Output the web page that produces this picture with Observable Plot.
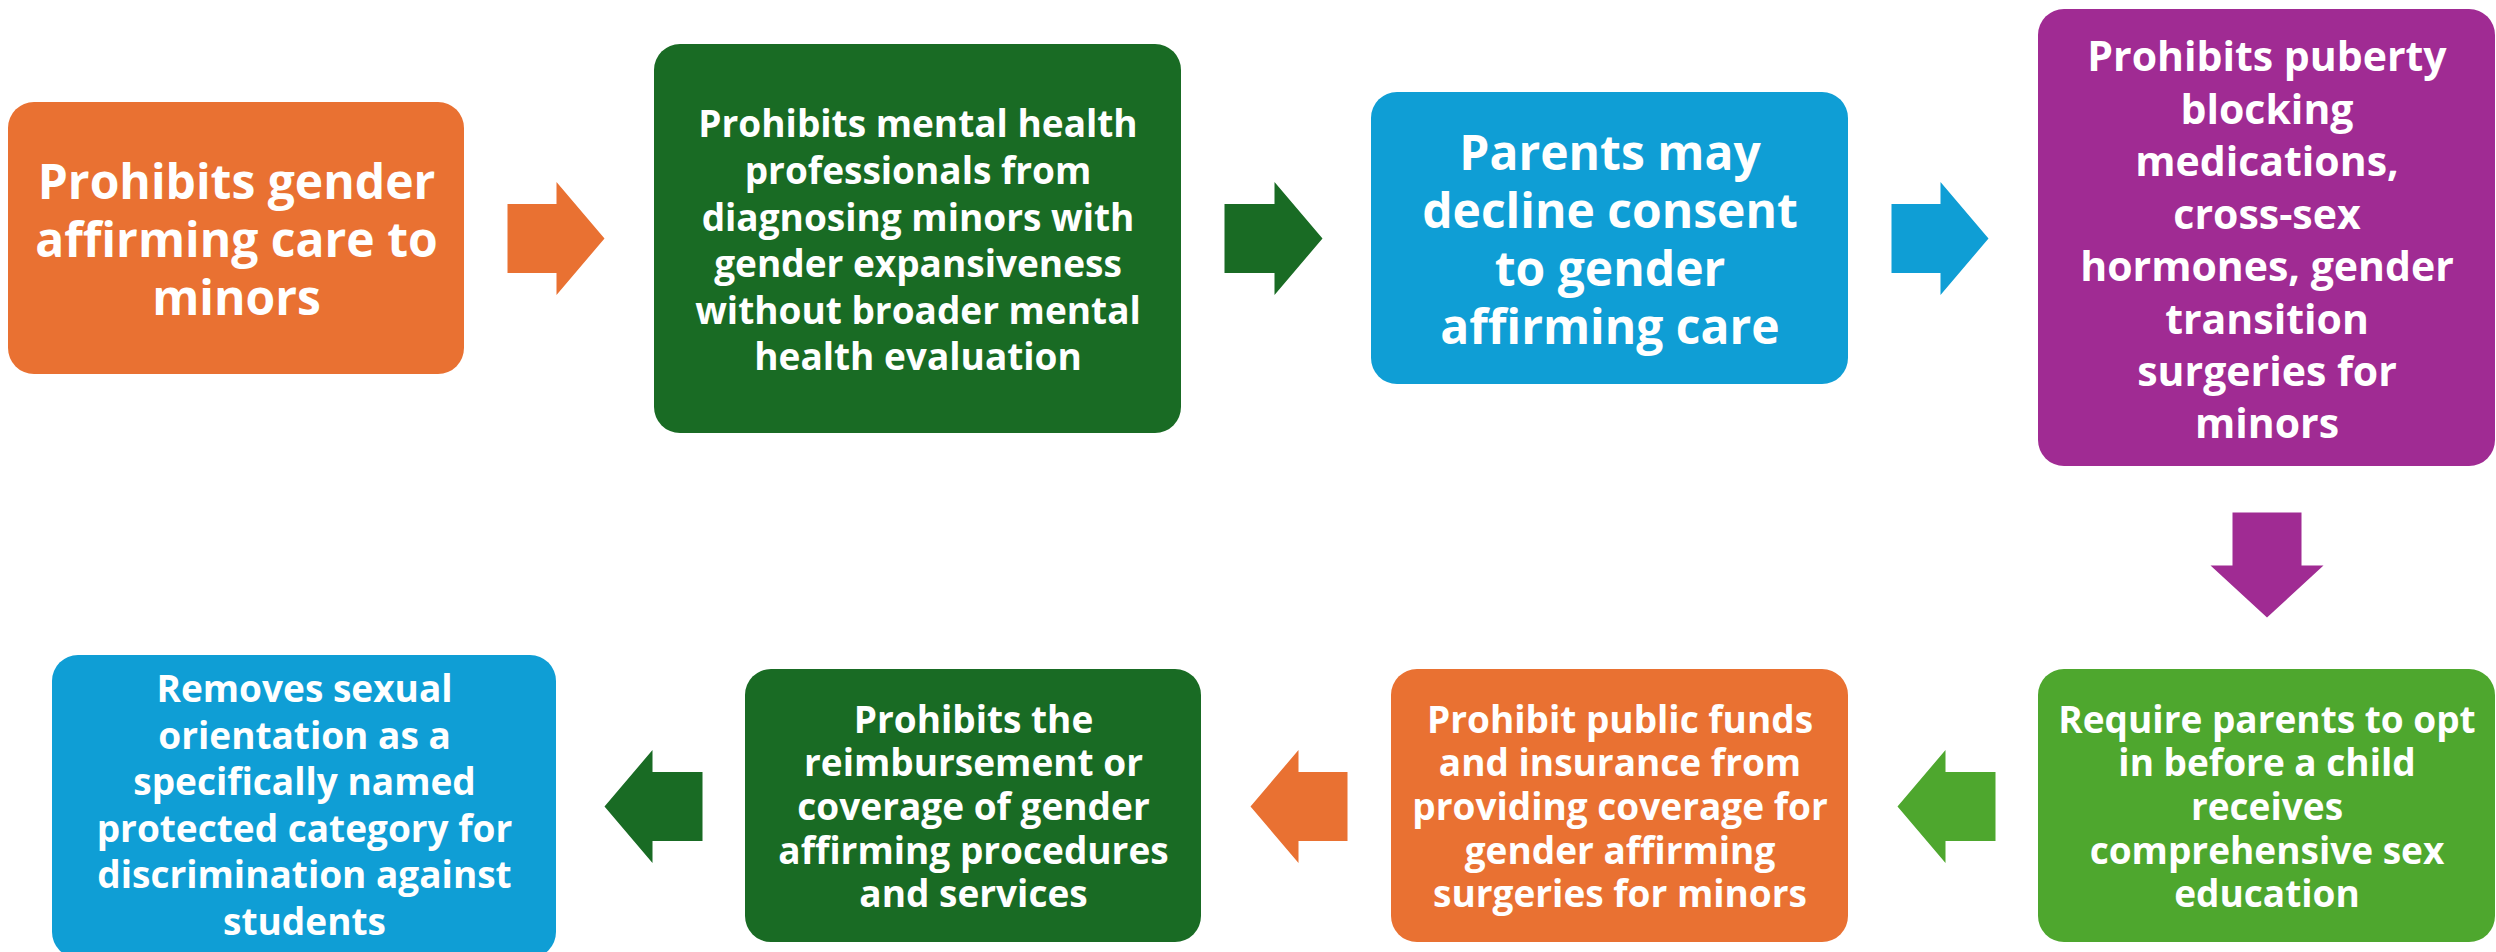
<!DOCTYPE html>
<html>
<head>
<meta charset="utf-8">
<script src="https://cdn.jsdelivr.net/npm/d3@7"></script>
<script src="https://cdn.jsdelivr.net/npm/@observablehq/plot@0.6"></script>
<style>
  html, body { margin: 0; padding: 0; background: #fff; overflow: hidden; }
  #chart svg { display: block; }
</style>
</head>
<body>
<div id="chart"></div>
<script>
// Flow steps (in order of the flow)
const steps = [
  "Prohibits gender\naffirming care to\nminors",
  "Prohibits mental health\nprofessionals from\ndiagnosing minors with\ngender expansiveness\nwithout broader mental\nhealth evaluation",
  "Parents may\ndecline consent\nto gender\naffirming care",
  "Prohibits puberty\nblocking\nmedications,\ncross-sex\nhormones, gender\ntransition\nsurgeries for\nminors",
  "Require parents to opt\nin before a child\nreceives\ncomprehensive sex\neducation",
  "Prohibit public funds\nand insurance from\nproviding coverage for\ngender affirming\nsurgeries for minors",
  "Prohibits the\nreimbursement or\ncoverage of gender\naffirming procedures\nand services",
  "Removes sexual\norientation as a\nspecifically named\nprotected category for\ndiscrimination against\nstudents"
];
const stepColors = ["#E97132", "#196B24", "#0F9ED5", "#A02B93", "#4EA72E", "#E97132", "#196B24", "#0F9ED5"];

// Layout of the boxes
const boxLeft   = [8, 654, 1371, 2038, 2038, 1391, 745, 52];
const boxRight  = [464, 1181, 1848, 2495, 2495, 1848, 1201, 556];
const boxTop    = [102, 44, 92, 9, 669, 669, 669, 655];
const boxBottom = [374, 433, 384, 466, 942, 942, 942, 958];
const fontSizes = [48, 37, 48, 41, 37, 37, 37, 37];
const lineHeights = [1.21, 1.26, 1.21, 1.28, 1.18, 1.18, 1.18, 1.26];

// Arrows: source step, orientation, start / neck / tip along the flow, cross-axis centre
const arrowFrom   = [0, 1, 2, 3, 4, 5, 6];
const arrowVert   = [false, false, false, true, false, false, false];
const arrowStart  = [507, 1224, 1891, 512, 1995, 1347, 702];
const arrowNeck   = [556, 1274, 1940, 565, 1945, 1298, 652];
const arrowTip    = [604, 1322, 1988, 617, 1897, 1250, 604];
const arrowAxis   = [238, 238, 238, 2266.5, 806, 806, 806];
const shaftHalf = 34.5, headHalf = 56.5;

const W = 2496, H = 952;

const boxes = steps.map((t, i) => ({
  text: t, color: stepColors[i],
  x1: boxLeft[i], x2: boxRight[i], y1: boxTop[i], y2: boxBottom[i],
  cx: (boxLeft[i] + boxRight[i]) / 2, cy: (boxTop[i] + Math.min(boxBottom[i], 942)) / 2
}));
// box 8 runs off the bottom edge: centre its text where the reference does
boxes[7].cy = 803;

const arrowPts = [];
arrowFrom.forEach((src, k) => {
  const s = arrowStart[k], n = arrowNeck[k], t = arrowTip[k], c = arrowAxis[k];
  const poly = [[s, c - shaftHalf], [n, c - shaftHalf], [n, c - headHalf], [t, c],
                [n, c + headHalf], [n, c + shaftHalf], [s, c + shaftHalf], [s, c - shaftHalf]];
  poly.forEach(([a, b]) => arrowPts.push({
    id: k, color: stepColors[src],
    x: arrowVert[k] ? b : a, y: arrowVert[k] ? a : b
  }));
});

const font = "'Open Sans', 'DejaVu Sans', sans-serif";

const marks = [
  Plot.rect(boxes, {x1: "x1", x2: "x2", y1: "y1", y2: "y2", fill: "color", rx: 26, ry: 26}),
  ...arrowFrom.map((src, k) => Plot.line(arrowPts.filter(d => d.id === k), {
    x: "x", y: "y", fill: stepColors[src], stroke: "none", curve: "linear"
  })),
  ...boxes.map((b, i) => Plot.text([b], {
    x: "cx", y: "cy", text: "text", fill: "white",
    fontSize: fontSizes[i], lineHeight: lineHeights[i], fontWeight: 700,
    fontFamily: font, textAnchor: "middle", lineAnchor: "middle"
  }))
];

const chart = Plot.plot({
  width: W, height: H,
  margin: 0,
  x: {domain: [0, W], range: [0, W], axis: null},
  y: {domain: [0, H], range: [0, H], axis: null},
  color: {type: "identity"},
  style: {background: "white", fontFamily: font},
  marks
});
document.getElementById("chart").appendChild(chart);
</script>
</body>
</html>
